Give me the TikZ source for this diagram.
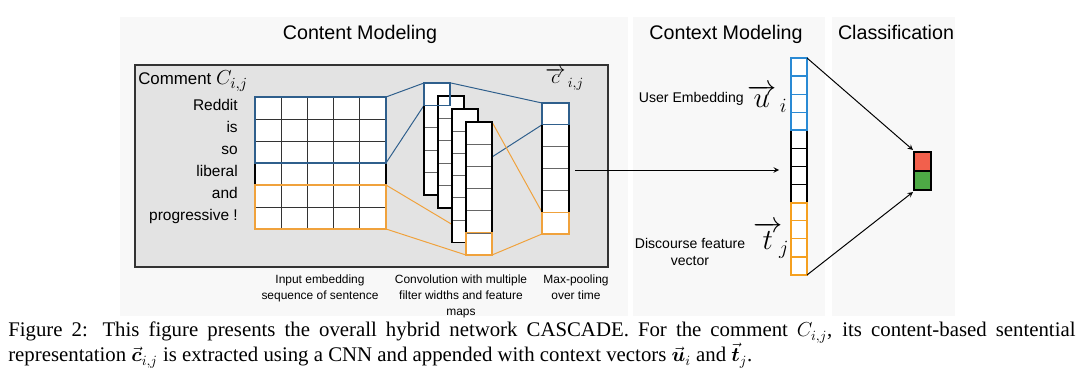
\documentclass[tikz,border=0pt]{standalone}
\usepackage{amsmath}
\usepackage{fontspec}
\setmainfont{Liberation Serif}
\setsansfont{Liberation Sans}
\usetikzlibrary{arrows, positioning}

\begin{document}
\begin{tikzpicture}[x=0.025cm, y=-0.025cm, font=\sffamily, inner sep=0pt,
    title/.style={font=\sffamily\fontsize{14}{16}\selectfont},
    word/.style={anchor=base east, font=\sffamily\fontsize{11}{13}\selectfont},
    note/.style={align=center, font=\sffamily\fontsize{8.5}{11.4}\selectfont},
    cell/.style={draw=black!60, line width=0.5pt},
    frame/.style={draw=black, line width=0.8pt},
    link/.style={line width=0.7pt},
    captionline/.style={anchor=base west, font=\rmfamily\fontsize{14.8}{17}\selectfont}]
  % Define colors
  \definecolor{panelgray}{HTML}{F8F8F8}
  \definecolor{boxgray}{HTML}{E3E3E3}
  \definecolor{cnnblue}{HTML}{2F5F8C}
  \definecolor{cnnorange}{HTML}{F0A23C}
  \definecolor{ctxblue}{HTML}{2A8AD4}
  \definecolor{ctxorange}{HTML}{F5A020}
  \definecolor{outred}{HTML}{F2604C}
  \definecolor{outgreen}{HTML}{4DAA45}

  \useasboundingbox (0,0) rectangle (1080,373);

  % Panels
  \fill[panelgray] (120,17) rectangle (628,316);
  \fill[panelgray] (633,17) rectangle (825,316);
  \fill[panelgray] (832,17) rectangle (955,316);
  \node[title, anchor=base] (contenttitle) at (360,40) {Content Modeling};
  \node[title, anchor=base] (contexttitle) at (726,40) {Context Modeling};
  \node[title, anchor=base] (classtitle) at (896,40) {Classification};

  % Comment box
  \draw[fill=boxgray, draw=black!80, line width=0.9pt] (135,65) rectangle (608,267);
  \node[anchor=base west, font=\sffamily\fontsize{12}{14}\selectfont] (comment) at (138,85)
    {Comment {\fontsize{15}{17}\selectfont$C_{i,j}$}};
  \node[word] (w1) at (238,111) {Reddit};
  \node[word] (w2) at (238,133) {is};
  \node[word] (w3) at (238,155) {so};
  \node[word] (w4) at (238,177) {liberal};
  \node[word] (w5) at (238,199) {and};
  \node[word] (w6) at (238,221) {progressive !};

  % Corner points
  \coordinate (grid-ne) at (386,97);
  \coordinate (grid-blue-se) at (386,163);
  \coordinate (grid-orange-ne) at (386,185);
  \coordinate (grid-se) at (386,229);
  \coordinate (map1-nw) at (424,83);
  \coordinate (map1-blue-sw) at (424,105.4);
  \coordinate (map1-ne) at (451,83);
  \coordinate (map4-ne) at (492,122);
  \coordinate (map4-e) at (492,157);
  \coordinate (map4-orange-nw) at (466,232.8);
  \coordinate (map4-sw) at (466,255);
  \coordinate (map4-se) at (492,255);
  \coordinate (pool-nw) at (542,103);
  \coordinate (pool-blue-sw) at (542,124.8);
  \coordinate (pool-orange-nw) at (542,212.2);
  \coordinate (pool-sw) at (542,234);
  \coordinate (pool-out) at (575,170);
  \coordinate (ctx-in) at (779,170);
  \coordinate (ctx-ne) at (807,58);
  \coordinate (ctx-se) at (807,275);
  \coordinate (out-top) at (913,150);
  \coordinate (out-bot) at (913,192);

  % Links
  \draw[link, cnnblue] (grid-ne) -- (map1-nw);
  \draw[link, cnnblue] (grid-blue-se) -- (map1-blue-sw);
  \draw[link, cnnblue] (map1-ne) -- (pool-nw);
  \draw[link, cnnblue] (map4-e) -- (pool-blue-sw);
  \draw[link, cnnorange] (grid-orange-ne) -- (map4-orange-nw);
  \draw[link, cnnorange] (grid-se) -- (map4-sw);
  \draw[link, cnnorange] (map4-ne) -- (pool-orange-nw);
  \draw[link, cnnorange] (map4-se) -- (pool-sw);

  % Input embedding grid
  \fill[white] (255,97) rectangle (386,229);
  \foreach \r in {1,...,5} \draw[cell, draw=black!80] (255,{97+22*\r}) -- (386,{97+22*\r});
  \foreach \c in {1,...,4} \draw[cell, draw=black!80] ({255+26.2*\c},97) -- ({255+26.2*\c},229);
  \draw[frame] (255,97) rectangle (386,229);
  \draw[frame, draw=cnnblue] (255,97) rectangle (386,163);
  \draw[frame, draw=cnnorange] (255,185) rectangle (386,229);

  % Feature maps
  \foreach \x/\y/\n/\h in {424/83/5/22.4, 438/96/5/22.4, 452/109/6/22.2, 466/122/6/22.2} {
    \fill[white] (\x,\y) rectangle ({\x+26},{\y+\n*\h});
    \foreach \k in {1,...,\n} \draw[cell] (\x,{\y+\k*\h}) -- ({\x+26},{\y+\k*\h});
    \draw[frame] (\x,\y) rectangle ({\x+26},{\y+\n*\h});
  }
  \draw[frame, draw=cnnblue] (424,83) rectangle (450,105.4);
  \draw[frame, draw=cnnorange] (466,232.8) rectangle (492,255);

  % Max-pooling vector
  \fill[white] (542,103) rectangle (569,234);
  \foreach \k in {1,...,5} \draw[cell] (542,{103+21.83*\k}) -- (569,{103+21.83*\k});
  \draw[frame] (542,103) rectangle (569,234);
  \draw[frame, draw=cnnblue] (542,103) rectangle (569,124.8);
  \draw[frame, draw=cnnorange] (542,212.2) rectangle (569,234);
  \node[anchor=base west, font=\fontsize{14}{16}\selectfont] (cvec) at (545,84) {$\overrightarrow{c}_{\,i,j}$};

  % Notes under the box
  \node[note] (inputnote) at (320,288) {Input embedding\\sequence of sentence};
  \node[note] (convnote) at (461,296) {Convolution with multiple\\filter widths and feature\\maps};
  \node[note] (poolnote) at (576,287) {Max-pooling\\over time};

  % Context vector
  \fill[white] (791,58) rectangle (807,275);
  \foreach \k in {1,...,11} \draw[line width=0.9pt, draw=black] (791,{58+18.08*\k}) -- (807,{58+18.08*\k});
  \foreach \k in {1,2,3} \draw[line width=0.9pt, draw=ctxblue] (791,{58+18.08*\k}) -- (807,{58+18.08*\k});
  \foreach \k in {9,10,11} \draw[line width=0.9pt, draw=ctxorange] (791,{58+18.08*\k}) -- (807,{58+18.08*\k});
  \draw[line width=1.3pt] (791,130.3) rectangle (807,202.7);
  \draw[line width=1.3pt, ctxblue] (791,58) rectangle (807,130.3);
  \draw[line width=1.3pt, ctxorange] (791,202.7) rectangle (807,275);
  \node[anchor=base east, font=\sffamily\fontsize{10}{12}\selectfont] (usernote) at (744,103) {User Embedding};
  \node[anchor=base west, font=\fontsize{22}{24}\selectfont] (uvec) at (747,108) {$\overrightarrow{u}_{\,i}$};
  \node[align=center, font=\sffamily\fontsize{10}{12}\selectfont] (discnote) at (690,252) {Discourse feature\\vector};
  \node[anchor=base west, font=\fontsize{22}{24}\selectfont] (tvec) at (753,250) {$\overrightarrow{t}_{\!j}$};

  % Classification output
  \draw[line width=1.2pt, fill=outred] (914,152) rectangle (931,171);
  \draw[line width=1.2pt, fill=outgreen] (914,171) rectangle (931,190);

  % Arrows
  \draw[link, -stealth] (pool-out) -- (ctx-in);
  \draw[link, -stealth] (ctx-ne) -- (out-top);
  \draw[link, -stealth] (ctx-se) -- (out-bot);

  % Caption
  \node[captionline, text depth=3pt] (caption1) at (8,337)
    {\makebox[26.675cm][s]{Figure 2: This figure presents the overall hybrid network CASCADE. For the comment $C_{i,j}$, its content-based sentential}};
  \node[captionline, text height=10.5pt] (caption2) at (8,362)
    {representation $\vec{\boldsymbol{c}}_{i,j}$ is extracted using a CNN and appended with context vectors $\vec{\boldsymbol{u}}_i$ and $\vec{\boldsymbol{t}}_j$.};
\end{tikzpicture}
\end{document}
